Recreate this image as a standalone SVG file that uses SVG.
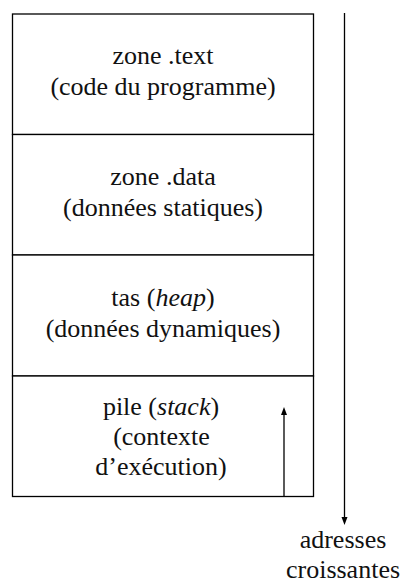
<svg xmlns="http://www.w3.org/2000/svg" width="406" height="581" viewBox="0 0 406 581" font-family="'Liberation Serif', 'Times New Roman', serif">
  <style>
    .box { fill: #fff; stroke: #000; stroke-width: 1.3; }
    .wire { stroke: #000; stroke-width: 1.3; fill: none; }
    .tip { fill: #000; }
  </style>
  <rect width="406" height="581" fill="#fff"/>

  <!-- memory segments, top to bottom -->
  <g id="text-zone">
    <rect class="box" x="12.5" y="14" width="301" height="120.5"/>
    <text style="font-family:'Liberation Serif',serif" font-size="26" fill="#111" text-anchor="middle" x="163" y="64">zone .text</text>
    <text style="font-family:'Liberation Serif',serif" font-size="26" fill="#111" text-anchor="middle" x="163" y="95">(code du programme)</text>
  </g>
  <g id="data-zone">
    <rect class="box" x="12.5" y="134.5" width="301" height="120.5"/>
    <text style="font-family:'Liberation Serif',serif" font-size="26" fill="#111" text-anchor="middle" x="163" y="185">zone .data</text>
    <text style="font-family:'Liberation Serif',serif" font-size="26" fill="#111" text-anchor="middle" x="163" y="216">(données statiques)</text>
  </g>
  <g id="heap">
    <rect class="box" x="12.5" y="255" width="301" height="121"/>
    <text style="font-family:'Liberation Serif',serif" font-size="26" fill="#111" text-anchor="middle" x="163" y="306">tas (<tspan font-style="italic">heap</tspan>)</text>
    <text style="font-family:'Liberation Serif',serif" font-size="26" fill="#111" text-anchor="middle" x="163" y="337">(données dynamiques)</text>
  </g>
  <g id="stack">
    <rect class="box" x="12.5" y="376" width="301" height="120.5"/>
    <text style="font-family:'Liberation Serif',serif" font-size="26" fill="#111" text-anchor="middle" x="161" y="415">pile (<tspan font-style="italic">stack</tspan>)</text>
    <text style="font-family:'Liberation Serif',serif" font-size="26" fill="#111" text-anchor="middle" x="161.5" y="445">(contexte</text>
    <text style="font-family:'Liberation Serif',serif" font-size="26" fill="#111" text-anchor="middle" x="161" y="475">d’exécution)</text>
  </g>

  <g id="address-label">
    <text style="font-family:'Liberation Serif',serif" font-size="26" fill="#111" text-anchor="middle" x="343" y="548">adresses</text>
    <text style="font-family:'Liberation Serif',serif" font-size="26" fill="#111" text-anchor="middle" x="343" y="578">croissantes</text>
  </g>

  <!-- address axis and stack growth arrow -->
  <g id="connectors">
    <line class="wire" x1="344.5" y1="13" x2="344.5" y2="518"/>
    <polygon class="tip" points="341.5,517 347.5,517 344.5,525"/>
    <line class="wire" x1="284" y1="496.5" x2="284" y2="414"/>
    <polygon class="tip" points="281,415 287,415 284,407"/>
  </g>
</svg>
